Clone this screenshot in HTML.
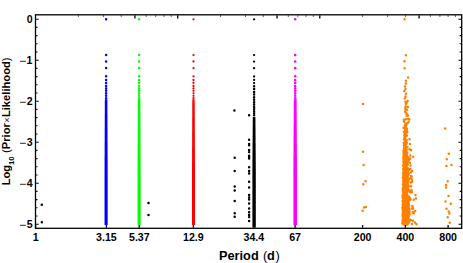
<!DOCTYPE html><html><head><meta charset="utf-8"><title>plot</title>
<style>html,body{margin:0;padding:0;background:#fff;overflow:hidden}svg{display:block}text{font-family:"Liberation Sans",sans-serif;fill:#000}</style></head><body>
<svg width="463" height="263" viewBox="0 0 463 263">
<rect width="463" height="263" fill="#fff"/>
<path d="M106.1 19.3h0M106.1 55.1h0M106.1 61.5h0M106.1 68.1h0M106.1 76.3h0M106.1 80.0h0M106.1 82.9h0M106.1 86.0h0M106.1 88.4h0M106.1 90.8h0M106.1 93.3h0M106.1 95.8h0M106.1 98.2h0" stroke="#0000ff" stroke-width="2.50" stroke-linecap="round" fill="none"/>
<path d="M104.85 99.3L104.55 170.0V225.0H107.65V170.0L107.35 99.3Z" fill="#0000ff"/>
<path d="M139.1 19.3h0M139.1 55.1h0M139.1 61.5h0M139.1 68.1h0M139.1 76.3h0M139.1 80.0h0M139.1 82.9h0M139.1 86.0h0M139.1 88.4h0M139.1 90.8h0M139.1 93.3h0M139.1 95.8h0M139.1 98.2h0" stroke="#00ff00" stroke-width="2.50" stroke-linecap="round" fill="none"/>
<path d="M137.85 99.3L137.55 170.0V225.0H140.65V170.0L140.35 99.3Z" fill="#00ff00"/>
<path d="M193.5 19.3h0M193.5 55.1h0M193.5 61.5h0M193.5 68.1h0M193.5 76.3h0M193.5 80.0h0M193.5 82.9h0M193.5 86.0h0M193.5 88.4h0M193.5 90.8h0M193.5 93.3h0M193.5 95.8h0M193.5 98.2h0" stroke="#ff0000" stroke-width="2.30" stroke-linecap="round" fill="none"/>
<path d="M192.30 99.3L192.00 170.0V225.0H195.00V170.0L194.70 99.3Z" fill="#ff0000"/>
<path d="M254.1 19.3h0M254.1 55.1h0M254.1 61.6h0M254.1 68.2h0M254.1 76.5h0M254.1 79.9h0M254.1 83.1h0" stroke="#000000" stroke-width="2.30" stroke-linecap="round" fill="none"/>
<path d="M254.1 86.2h0M254.1 89.1h0M254.1 91.9h0M254.1 94.6h0M254.1 97.3h0M254.1 99.8h0M254.1 102.3h0M254.1 104.6h0M254.1 106.9h0M254.1 109.1h0M254.1 111.2h0M254.1 113.2h0M254.1 115.2h0" stroke="#000000" stroke-width="2.50" stroke-linecap="round" fill="none"/>
<path d="M252.80 117.1L252.40 170V227.5H255.80V170L255.40 117.1Z" fill="#000"/>
<path d="M295.2 19.3h0M295.2 55.1h0M295.2 61.5h0M295.2 68.1h0M295.2 76.3h0M295.2 80.0h0M295.2 82.9h0M295.2 86.0h0M295.2 88.4h0M295.2 90.8h0M295.2 93.3h0M295.2 95.8h0M295.2 98.2h0" stroke="#ff00ff" stroke-width="2.60" stroke-linecap="round" fill="none"/>
<path d="M293.80 99.3L293.40 170.0V225.0H297.00V170.0L296.60 99.3Z" fill="#ff00ff"/>
<path d="M41.8 204.7h0M41.8 222.2h0M148.5 202.9h0M148.5 215.1h0M234.4 110.4h0M249.1 115.3h0M249.1 139.7h0M249.1 144.1h0M249.1 145.3h0M249.1 150.1h0M249.1 152.0h0M249.1 155.7h0M234.7 157.8h0M234.7 171.1h0M234.7 186.6h0M234.7 190.4h0M234.7 201.1h0M234.7 213.2h0M234.7 216.8h0M249.1 157.0h0M249.1 158.6h0M249.1 167.3h0M249.1 171.1h0M249.1 173.6h0M249.1 181.7h0M249.1 187.6h0M249.1 195.0h0M249.1 197.5h0M249.1 199.4h0M249.1 203.6h0M249.1 208.4h0M249.1 212.3h0M249.1 215.1h0M249.1 216.9h0M249.1 221.1h0" stroke="#000000" stroke-width="2.50" stroke-linecap="round" fill="none"/>
<path d="M404.6 19.3h0M405.9 55.3h0M404.4 61.3h0M404.6 68.2h0M408.1 77.5h0M405.9 80.7h0M405.9 83.5h0M405.0 86.5h0M405.5 89.0h0M404.3 91.0h0M405.9 93.8h0M405.5 96.4h0M404.9 98.4h0M407.6 101.1h0M405.5 101.8h0M406.6 102.8h0M405.9 104.1h0M405.5 106.6h0M407.8 107.0h0M405.3 108.4h0M406.9 109.7h0M405.5 110.4h0M405.2 111.8h0M406.2 113.2h0M407.3 114.6h0M408.0 115.5h0M406.6 115.8h0M403.9 119.8h0M405.9 119.3h0M408.2 118.9h0M409.3 119.5h0M403.9 121.6h0M408.6 121.9h0M405.5 123.6h0M407.3 123.3h0M404.9 125.4h0M406.2 125.4h0M403.6 127.8h0M405.5 127.4h0M406.9 128.8h0M404.9 129.9h0M406.9 130.5h0M403.9 131.9h0M405.5 131.9h0M407.3 132.3h0M363.0 104.0h0M363.0 151.7h0M363.6 165.0h0M365.6 181.3h0M363.3 184.3h0M364.1 207.4h0M365.8 207.0h0M362.6 210.7h0M445.2 128.6h0M448.8 153.8h0M446.8 159.2h0M446.4 165.9h0M451.5 165.0h0M447.7 181.3h0M446.1 185.1h0M446.1 187.4h0M448.5 195.9h0M445.5 201.5h0M450.8 203.8h0M446.5 208.8h0M448.7 211.5h0M449.4 213.6h0M447.7 217.3h0M449.8 222.7h0M410.0 144.1h0M409.4 149.2h0M411.0 150.0h0M410.3 155.5h0M413.3 156.7h0M410.3 158.6h0M410.5 165.6h0M411.0 172.5h0M411.0 176.0h0M412.0 179.7h0M410.8 182.6h0M411.0 186.3h0M411.5 189.9h0M412.0 191.9h0M415.5 195.0h0M416.0 198.5h0M413.8 199.8h0M412.3 205.9h0M413.0 208.8h0M415.2 211.0h0M414.0 213.3h0M413.0 220.7h0M415.0 222.6h0M416.5 224.2h0M405.1 132.7h0M405.1 132.9h0M406.3 133.0h0M405.5 133.6h0M405.5 133.9h0M405.0 133.7h0M404.3 135.1h0M406.9 135.4h0M405.9 135.6h0M405.8 136.3h0M404.4 135.7h0M404.7 136.6h0M404.9 136.7h0M404.5 137.1h0M405.0 138.3h0M404.7 138.0h0M404.7 138.2h0M409.5 139.3h0M404.6 138.5h0M404.1 139.4h0M404.4 140.1h0M404.7 140.4h0M406.7 140.2h0M405.7 141.5h0M404.9 141.3h0M406.1 140.5h0M405.4 141.7h0M405.3 142.3h0M405.1 141.6h0M406.1 142.4h0M403.8 142.9h0M404.6 143.4h0M404.1 142.9h0M406.8 142.7h0M405.2 143.7h0M406.3 144.1h0M406.2 143.8h0M405.1 143.9h0M404.7 145.5h0M404.1 145.2h0M405.4 145.4h0M403.8 145.3h0M404.8 145.6h0M404.8 145.7h0M405.0 145.8h0M405.0 145.7h0M407.4 146.9h0M405.4 146.6h0M404.6 146.8h0M405.9 147.3h0M404.1 147.5h0M405.4 147.8h0M405.4 147.8h0M404.6 147.5h0M406.0 148.0h0M406.3 147.5h0M406.3 149.5h0M404.1 148.8h0M405.3 148.7h0M404.0 149.3h0M406.4 148.7h0M403.6 150.3h0M405.3 150.2h0M406.6 149.9h0M406.1 149.5h0M405.3 149.8h0M403.5 151.5h0M406.2 151.5h0M405.3 150.9h0M406.1 150.7h0M403.7 150.7h0M403.7 152.2h0M404.0 151.6h0M403.6 152.3h0M405.5 151.7h0M404.3 152.3h0M403.5 151.9h0M407.2 152.6h0M407.3 152.7h0M404.2 152.6h0M404.7 153.5h0M404.4 152.6h0M404.5 153.5h0M404.2 154.4h0M405.2 153.7h0M406.4 154.1h0M404.7 153.8h0M405.6 153.9h0M403.6 154.0h0M404.1 155.0h0M406.8 155.0h0M405.4 154.7h0M405.5 154.5h0M404.6 155.0h0M404.7 155.1h0M406.9 155.6h0M405.3 156.1h0M406.5 156.3h0M403.6 156.0h0M404.6 155.9h0M403.6 156.0h0M405.2 156.0h0M408.0 157.2h0M403.5 156.8h0M405.8 157.4h0M404.8 156.6h0M405.3 156.6h0M405.9 157.2h0M406.0 157.3h0M404.9 158.2h0M406.4 158.4h0M405.2 158.5h0M408.4 158.0h0M405.2 157.7h0M404.9 158.0h0M406.2 158.2h0M405.1 159.1h0M405.5 159.1h0M409.7 159.0h0M407.2 159.5h0M405.3 158.6h0M405.8 158.8h0M403.3 158.6h0M407.1 158.8h0M403.7 160.4h0M404.6 159.6h0M408.9 159.9h0M407.1 160.3h0M405.8 159.6h0M405.0 160.4h0M403.6 159.8h0M404.5 159.6h0M405.7 160.6h0M405.9 160.7h0M404.7 160.8h0M408.1 161.0h0M405.3 160.7h0M405.7 160.5h0M404.6 161.2h0M405.1 161.4h0M403.5 161.9h0M405.5 162.0h0M407.0 162.2h0M405.3 162.3h0M404.4 162.1h0M406.3 161.6h0M405.4 161.6h0M404.4 161.6h0M405.2 163.2h0M406.7 163.0h0M404.5 162.7h0M405.9 163.5h0M405.6 163.0h0M409.9 162.8h0M403.9 162.9h0M405.7 163.0h0M406.9 163.8h0M406.4 163.5h0M405.1 163.5h0M406.6 164.0h0M404.3 164.3h0M403.7 163.9h0M407.1 164.5h0M407.7 164.1h0M407.3 163.5h0M403.2 165.2h0M403.9 164.6h0M405.2 165.3h0M407.5 165.1h0M404.2 165.2h0M406.5 164.5h0M406.7 164.6h0M403.7 165.3h0M404.8 166.0h0M405.4 166.3h0M403.9 166.2h0M405.4 166.2h0M406.1 166.2h0M405.2 165.7h0M403.3 165.9h0M405.7 166.2h0M403.6 166.1h0M405.4 166.8h0M404.3 166.5h0M404.5 166.8h0M403.6 166.8h0M404.8 167.0h0M405.6 166.7h0M405.7 167.5h0M405.3 167.0h0M404.4 167.5h0M405.9 167.7h0M406.8 168.1h0M407.1 168.5h0M406.4 167.6h0M404.0 168.4h0M407.1 167.7h0M404.5 167.5h0M404.3 168.0h0M405.9 167.8h0M408.4 169.3h0M405.5 169.3h0M408.0 168.6h0M404.5 169.4h0M403.2 168.9h0M410.4 168.9h0M408.2 168.5h0M407.5 168.8h0M405.5 169.4h0M406.9 169.7h0M409.1 169.9h0M404.7 170.1h0M403.5 170.4h0M404.8 170.2h0M404.8 170.3h0M404.6 170.4h0M404.8 170.0h0M406.7 170.5h0M404.9 171.2h0M407.7 170.7h0M406.5 170.7h0M412.0 171.0h0M404.7 171.5h0M405.8 170.6h0M406.6 170.8h0M406.2 170.8h0M407.8 171.1h0M403.9 170.9h0M405.2 171.9h0M406.0 172.5h0M403.5 171.6h0M405.4 171.7h0M404.2 171.7h0M406.6 172.3h0M405.9 172.4h0M405.5 172.2h0M403.6 172.4h0M405.9 171.9h0M408.5 173.3h0M403.4 172.7h0M403.3 172.7h0M405.2 173.2h0M403.7 173.3h0M406.1 173.3h0M407.8 172.7h0M404.5 172.8h0M404.0 172.8h0M403.8 174.0h0M405.9 173.9h0M407.9 173.5h0M403.1 173.8h0M406.6 174.4h0M405.6 174.0h0M406.9 174.5h0M405.4 174.2h0M405.9 174.2h0M405.4 173.9h0M408.2 174.5h0M403.5 174.8h0M406.8 175.3h0M404.5 175.2h0M405.5 174.8h0M406.1 174.7h0M408.6 174.8h0M404.5 175.5h0M405.5 174.9h0M406.5 175.2h0M405.2 175.7h0M406.1 175.6h0M405.7 175.9h0M407.7 176.4h0M403.9 176.5h0M407.2 175.8h0M411.5 176.2h0M404.6 175.9h0M406.7 175.5h0M403.3 175.8h0M411.7 176.7h0M405.1 177.3h0M405.8 176.9h0M406.1 177.4h0M407.2 177.4h0M403.2 176.5h0M407.3 176.5h0M411.6 176.5h0M407.1 177.4h0M405.0 176.8h0M411.0 178.2h0M405.7 177.5h0M402.8 178.1h0M405.7 177.5h0M407.6 178.5h0M404.6 178.5h0M406.4 178.0h0M406.9 178.4h0M408.6 178.2h0M405.9 178.3h0M403.4 177.8h0M406.6 179.3h0M406.1 179.3h0M406.0 178.7h0M405.7 179.1h0M409.4 178.8h0M405.1 178.8h0M403.1 178.6h0M405.6 178.7h0M403.8 178.9h0M403.9 179.3h0M406.4 178.6h0M404.4 179.9h0M405.6 179.7h0M407.0 179.7h0M404.3 180.4h0M404.9 180.5h0M406.5 179.7h0M403.4 180.5h0M407.1 180.0h0M403.3 180.4h0M406.4 179.8h0M406.4 180.5h0M403.3 181.4h0M408.3 180.8h0M406.4 181.3h0M405.3 181.1h0M404.9 180.7h0M406.3 180.8h0M404.9 181.1h0M404.7 180.8h0M405.1 180.7h0M406.7 181.0h0M407.1 180.6h0M406.7 182.1h0M407.1 181.6h0M408.1 181.9h0M404.1 181.8h0M411.2 182.1h0M407.4 182.4h0M405.5 181.7h0M412.1 181.7h0M405.7 181.9h0M404.6 182.4h0M405.8 182.1h0M407.8 183.4h0M407.0 182.9h0M406.5 183.0h0M406.8 183.0h0M407.3 183.4h0M407.0 183.3h0M405.9 183.5h0M406.5 183.4h0M405.0 183.5h0M405.6 182.9h0M403.3 183.4h0M403.5 183.7h0M406.1 184.3h0M404.6 183.7h0M404.9 184.0h0M406.2 184.2h0M408.0 184.4h0M406.2 184.3h0M406.1 183.5h0M404.9 184.1h0M405.0 184.1h0M407.5 183.9h0M405.2 184.9h0M405.7 185.0h0M405.9 184.7h0M403.2 185.0h0M406.4 185.0h0M406.2 184.9h0M403.7 184.6h0M406.4 185.1h0M405.3 184.6h0M402.9 184.6h0M406.6 184.9h0M405.3 186.5h0M407.5 186.3h0M410.8 186.0h0M407.3 186.4h0M408.5 186.4h0M403.9 185.6h0M408.2 186.4h0M406.0 185.8h0M404.7 186.0h0M405.4 185.7h0M407.9 185.5h0M408.3 186.7h0M404.6 187.4h0M407.4 187.3h0M407.2 187.1h0M407.3 186.9h0M404.0 187.1h0M408.3 186.6h0M405.5 186.9h0M408.2 186.8h0M405.4 186.9h0M407.0 186.9h0M408.5 186.5h0M402.8 187.8h0M403.0 188.2h0M406.7 187.5h0M405.8 188.1h0M403.1 187.9h0M405.3 187.7h0M407.4 187.5h0M405.6 187.6h0M406.0 187.9h0M408.2 188.1h0M404.2 187.7h0M404.2 188.7h0M403.3 188.6h0M403.0 188.9h0M404.2 188.5h0M403.8 189.1h0M405.5 189.4h0M404.3 188.5h0M405.6 188.9h0M406.3 189.3h0M403.1 188.5h0M404.3 188.7h0M406.1 190.1h0M404.6 189.8h0M408.3 189.5h0M403.6 190.2h0M405.5 190.3h0M403.6 190.0h0M405.7 189.6h0M406.2 189.8h0M404.5 190.2h0M402.8 189.8h0M406.2 189.9h0M403.5 189.8h0M405.9 190.7h0M405.4 190.8h0M408.7 191.2h0M404.6 190.8h0M405.9 190.8h0M410.0 191.1h0M407.8 191.2h0M405.3 191.3h0M403.0 191.4h0M406.8 190.8h0M405.1 190.7h0M405.1 190.6h0M405.1 192.4h0M406.5 191.5h0M403.8 192.2h0M403.6 191.6h0M407.1 191.9h0M403.1 192.4h0M410.4 192.4h0M403.4 191.6h0M406.7 192.3h0M403.3 192.3h0M406.3 191.8h0M406.1 192.3h0M405.3 192.8h0M405.8 192.8h0M404.6 193.2h0M406.9 193.0h0M405.3 193.4h0M405.3 192.9h0M405.0 192.8h0M403.5 193.4h0M405.7 193.3h0M405.7 192.7h0M405.8 193.3h0M405.6 193.0h0M404.0 193.7h0M405.7 193.8h0M405.4 194.4h0M407.0 194.0h0M405.1 193.6h0M405.1 194.2h0M404.5 194.1h0M407.2 194.4h0M406.0 193.6h0M405.4 193.7h0M403.9 194.4h0M405.6 193.7h0M405.7 195.3h0M403.0 194.8h0M407.2 194.7h0M403.4 195.2h0M406.0 194.9h0M403.3 194.6h0M405.7 195.4h0M406.9 194.8h0M406.3 195.2h0M404.8 194.7h0M404.6 194.8h0M405.5 194.7h0M406.5 195.6h0M405.4 195.9h0M405.4 196.3h0M403.7 196.1h0M405.3 195.7h0M406.0 196.3h0M403.1 196.2h0M405.6 195.6h0M405.4 195.9h0M402.6 196.1h0M406.0 195.9h0M408.8 196.4h0M407.4 197.2h0M403.5 197.1h0M405.1 196.8h0M405.0 197.3h0M405.6 197.1h0M407.7 197.1h0M403.7 196.9h0M402.6 197.2h0M403.1 196.9h0M406.0 197.0h0M406.6 196.7h0M403.1 197.0h0M405.2 198.0h0M403.5 198.3h0M406.9 197.9h0M405.2 198.2h0M410.0 198.3h0M409.7 197.8h0M403.2 197.9h0M407.1 197.8h0M405.4 197.7h0M402.6 197.7h0M405.9 197.9h0M406.7 198.3h0M403.4 199.1h0M406.1 199.5h0M403.5 198.9h0M403.1 199.0h0M408.3 199.0h0M408.3 198.9h0M405.4 199.4h0M407.6 198.9h0M408.9 198.7h0M405.7 198.8h0M405.0 198.7h0M407.8 199.1h0M409.2 199.9h0M404.1 199.6h0M405.9 200.4h0M404.7 200.3h0M410.6 199.5h0M406.0 199.8h0M406.5 199.6h0M406.8 200.3h0M408.1 199.8h0M409.2 200.3h0M407.8 199.7h0M404.1 200.3h0M406.3 201.3h0M404.6 201.2h0M402.7 201.2h0M407.2 200.8h0M407.1 200.7h0M407.4 200.6h0M407.1 201.0h0M407.5 201.0h0M405.8 201.0h0M405.5 201.3h0M403.9 201.1h0M402.6 200.9h0M405.3 202.1h0M405.3 202.2h0M408.0 201.8h0M405.4 202.0h0M405.1 201.5h0M403.1 202.4h0M403.0 202.0h0M405.1 201.9h0M406.4 202.1h0M404.3 202.3h0M405.3 202.0h0M408.0 202.2h0M404.9 202.3h0M407.2 203.1h0M408.8 203.3h0M406.4 203.4h0M407.3 203.0h0M406.2 202.5h0M408.1 202.7h0M404.5 203.2h0M403.7 203.4h0M404.0 203.2h0M406.3 203.2h0M408.6 203.0h0M406.7 203.3h0M406.4 202.5h0M404.7 204.4h0M404.2 204.3h0M405.0 203.8h0M407.7 203.9h0M406.3 204.1h0M405.4 204.1h0M406.6 203.6h0M403.4 204.4h0M403.8 203.5h0M407.4 204.5h0M404.9 204.0h0M406.1 203.7h0M408.7 204.5h0M405.7 204.6h0M409.1 205.5h0M407.8 204.6h0M405.4 204.5h0M404.3 204.7h0M404.8 205.3h0M402.7 204.6h0M402.9 205.2h0M406.8 205.5h0M406.0 205.2h0M405.7 205.2h0M407.2 205.3h0M406.5 205.7h0M405.0 206.4h0M405.7 206.1h0M405.2 205.9h0M404.7 205.9h0M404.1 206.1h0M406.6 206.4h0M404.2 206.3h0M405.0 206.5h0M404.4 206.3h0M408.1 206.3h0M404.9 206.1h0M407.7 205.9h0M408.6 207.1h0M403.6 206.8h0M403.5 206.8h0M406.9 207.4h0M407.5 206.5h0M402.7 207.4h0M407.8 206.8h0M403.0 207.2h0M407.9 206.8h0M407.0 207.3h0M405.7 206.7h0M402.7 206.7h0M404.4 207.2h0M405.9 208.3h0M408.8 208.0h0M407.6 208.3h0M402.5 207.7h0M403.8 208.0h0M406.1 208.1h0M406.9 207.7h0M404.1 208.2h0M407.7 208.0h0M412.7 207.6h0M407.6 208.1h0M407.2 208.3h0M407.9 207.8h0M411.8 208.5h0M407.0 209.0h0M405.4 209.1h0M409.2 209.4h0M407.9 209.3h0M403.1 208.8h0M406.0 208.7h0M406.4 208.6h0M407.2 209.1h0M404.2 209.4h0M404.1 208.6h0M404.6 209.5h0M402.7 209.1h0M403.0 209.9h0M407.1 210.5h0M405.6 209.5h0M409.3 209.9h0M403.3 210.3h0M405.0 210.3h0M403.1 209.6h0M408.5 210.3h0M404.6 209.8h0M407.1 210.3h0M406.8 209.8h0M404.5 209.6h0M405.8 209.6h0M405.4 210.5h0M404.5 211.4h0M408.5 211.4h0M402.8 210.6h0M409.2 210.6h0M404.1 211.1h0M406.7 210.8h0M403.8 211.1h0M408.7 210.7h0M406.8 211.1h0M406.8 210.6h0M404.6 210.9h0M406.6 210.8h0M404.2 212.0h0M412.6 212.4h0M409.4 212.2h0M404.1 211.7h0M405.9 211.7h0M412.9 211.9h0M405.3 211.6h0M408.8 212.4h0M406.8 211.8h0M409.4 212.5h0M406.0 211.8h0M409.6 211.6h0M405.7 212.0h0M402.9 211.7h0M407.5 212.6h0M406.1 212.7h0M403.0 212.7h0M404.0 212.6h0M404.3 212.7h0M406.7 213.2h0M403.4 212.7h0M403.1 213.2h0M407.5 213.3h0M407.9 212.8h0M403.1 213.0h0M402.9 213.4h0M406.3 212.7h0M406.7 213.9h0M407.4 214.1h0M403.6 213.5h0M405.4 213.6h0M406.9 214.3h0M404.4 214.2h0M409.6 214.3h0M407.2 214.5h0M403.4 214.0h0M405.5 213.5h0M406.1 213.7h0M406.5 213.8h0M406.6 214.3h0M405.8 214.7h0M403.7 214.5h0M404.2 215.2h0M405.6 215.4h0M405.1 215.0h0M407.2 214.8h0M407.1 214.6h0M406.4 215.1h0M404.9 215.1h0M407.9 214.7h0M402.7 214.9h0M403.8 215.3h0M405.4 215.3h0M402.5 215.8h0M408.0 216.4h0M406.1 216.3h0M405.2 216.0h0M405.7 216.4h0M407.8 216.1h0M405.0 215.9h0M405.5 216.0h0M409.2 215.6h0M405.1 216.4h0M408.9 216.3h0M403.1 215.5h0M405.0 215.8h0M404.3 216.4h0M402.8 217.0h0M407.7 216.8h0M407.7 217.1h0M407.6 217.5h0M405.4 217.0h0M408.0 216.6h0M406.8 216.6h0M406.9 216.9h0M405.7 216.8h0M406.6 217.0h0M403.8 217.3h0M404.1 216.7h0M403.2 217.0h0M404.9 216.8h0M403.8 218.0h0M407.5 217.9h0M405.9 218.4h0M408.3 218.0h0M407.4 217.8h0M405.6 218.3h0M407.2 217.6h0M404.2 217.6h0M405.6 217.9h0M404.8 218.5h0M404.8 217.7h0M407.3 218.1h0M406.8 218.3h0M403.6 218.2h0M406.4 219.0h0M402.9 219.4h0M409.2 219.4h0M405.8 219.1h0M408.3 219.0h0M405.1 218.9h0M404.2 219.4h0M404.5 219.0h0M403.8 218.8h0M407.4 218.8h0M407.1 219.3h0M403.9 218.9h0M407.3 218.8h0M407.8 219.6h0M404.0 220.4h0M409.3 220.5h0M403.0 219.7h0M407.7 219.5h0M402.5 220.1h0M405.8 220.0h0M403.4 220.5h0M405.4 219.9h0M402.9 220.1h0M410.9 220.0h0M403.4 219.9h0M404.7 220.5h0M402.8 219.9h0M402.9 221.3h0M409.5 220.8h0M405.2 221.0h0M404.4 221.4h0M402.7 221.4h0M405.1 220.7h0M408.1 220.7h0M403.9 220.7h0M403.8 221.5h0M402.8 220.5h0M407.6 221.2h0M404.4 220.5h0M409.5 221.2h0M403.2 220.7h0M405.7 222.0h0M403.9 222.5h0M404.8 221.7h0M406.7 221.6h0M406.4 222.0h0M403.0 222.3h0M403.4 221.5h0M405.3 221.8h0M403.9 221.8h0M404.1 222.4h0M404.8 221.9h0M402.7 222.4h0M403.3 222.1h0M409.4 221.5h0M404.1 223.4h0M402.6 222.8h0M402.8 223.4h0M405.4 222.9h0M404.4 223.4h0M405.7 223.3h0M407.0 222.9h0M407.4 222.7h0M405.4 223.1h0M404.2 223.0h0M407.1 222.6h0M404.8 223.3h0M407.0 222.8h0M408.7 222.7h0M406.4 223.7h0M407.1 224.2h0M406.6 224.3h0M402.4 223.6h0M407.1 223.7h0M405.4 223.9h0M403.8 223.7h0M406.0 224.0h0M408.0 223.6h0M405.4 224.2h0M412.0 223.9h0M406.4 223.7h0M405.0 224.0h0M406.0 223.8h0M403.8 224.6h0M406.8 224.6h0M406.4 224.6h0M405.2 224.6h0M404.9 224.6h0M407.4 224.6h0M406.4 224.6h0M405.4 224.6h0M404.1 224.6h0M406.4 224.6h0M404.9 224.6h0M404.8 224.6h0M404.1 224.6h0M406.8 224.6h0" stroke="#ff8000" stroke-width="2.50" stroke-linecap="round" fill="none"/>
<g stroke="#000" fill="none">
<rect x="35.5" y="14.8" width="426.2" height="213.5" stroke-width="1.3"/>
<path d="M36.1 19.2h2.6M461.1 19.2h-2.6M36.1 27.4h1.4M461.1 27.4h-1.4M36.1 35.6h1.4M461.1 35.6h-1.4M36.1 43.8h1.4M461.1 43.8h-1.4M36.1 52.0h1.4M461.1 52.0h-1.4M36.1 60.2h2.6M461.1 60.2h-2.6M36.1 68.4h1.4M461.1 68.4h-1.4M36.1 76.6h1.4M461.1 76.6h-1.4M36.1 84.8h1.4M461.1 84.8h-1.4M36.1 93.0h1.4M461.1 93.0h-1.4M36.1 101.2h2.6M461.1 101.2h-2.6M36.1 109.4h1.4M461.1 109.4h-1.4M36.1 117.6h1.4M461.1 117.6h-1.4M36.1 125.8h1.4M461.1 125.8h-1.4M36.1 134.0h1.4M461.1 134.0h-1.4M36.1 142.2h2.6M461.1 142.2h-2.6M36.1 150.4h1.4M461.1 150.4h-1.4M36.1 158.6h1.4M461.1 158.6h-1.4M36.1 166.8h1.4M461.1 166.8h-1.4M36.1 175.0h1.4M461.1 175.0h-1.4M36.1 183.2h2.6M461.1 183.2h-2.6M36.1 191.4h1.4M461.1 191.4h-1.4M36.1 199.6h1.4M461.1 199.6h-1.4M36.1 207.8h1.4M461.1 207.8h-1.4M36.1 216.0h1.4M461.1 216.0h-1.4M36.1 224.2h2.6M461.1 224.2h-2.6" stroke-width="1.1"/>
<path d="M35.6 227.8v-2.9M106.4 227.8v-2.9M139.3 227.8v-2.9M193.4 227.8v-2.9M253.9 227.8v-2.9M295.1 227.8v-2.9M362.6 227.8v-2.9M405.4 227.8v-2.9M448.1 227.8v-2.9" stroke-width="1.3"/>
<path d="M134.9 15.3v3.1M177.7 15.3v3.1M277.0 15.3v3.1M319.8 15.3v3.1M419.1 15.3v3.1" stroke-width="1.3"/>
<path d="M78.4 15.3v1.5M103.4 15.3v1.5M121.2 15.3v1.5M146.2 15.3v1.5M155.7 15.3v1.5M163.9 15.3v1.5M171.2 15.3v1.5M220.5 15.3v1.5M245.5 15.3v1.5M263.3 15.3v1.5M288.3 15.3v1.5M297.8 15.3v1.5M306.0 15.3v1.5M313.3 15.3v1.5M362.6 15.3v1.5M387.6 15.3v1.5M405.4 15.3v1.5M430.4 15.3v1.5M439.9 15.3v1.5M448.1 15.3v1.5M455.4 15.3v1.5" stroke-width="0.8"/>
</g>
<g font-weight="bold" font-size="10.6px" text-anchor="middle">
<text x="35.6" y="240.6">1</text>
<text x="106.4" y="240.6">3.15</text>
<text x="139.3" y="240.6">5.37</text>
<text x="193.4" y="240.6">12.9</text>
<text x="253.9" y="240.6">34.4</text>
<text x="295.1" y="240.6">67</text>
<text x="362.6" y="240.6">200</text>
<text x="405.4" y="240.6">400</text>
<text x="448.1" y="240.6">800</text>
</g>
<g font-size="10.6px" text-anchor="end">
<text x="32.7" y="23.2" font-weight="bold">0</text>
<text x="32.3" y="64.2" font-weight="bold">1</text>
<path d="M20.1 61.3H25.8" stroke="#000" stroke-width="0.85"/>
<text x="32.7" y="105.2" font-weight="bold">2</text>
<path d="M20.1 102.3H25.8" stroke="#000" stroke-width="0.85"/>
<text x="32.7" y="146.2" font-weight="bold">3</text>
<path d="M20.1 143.3H25.8" stroke="#000" stroke-width="0.85"/>
<text x="32.7" y="187.2" font-weight="bold">4</text>
<path d="M20.1 184.3H25.8" stroke="#000" stroke-width="0.85"/>
<text x="32.7" y="228.2" font-weight="bold">5</text>
<path d="M20.1 225.3H25.8" stroke="#000" stroke-width="0.85"/>
</g>
<text y="259.9" font-size="12.75px"><tspan x="219.0" font-weight="bold">Period</tspan><tspan x="263.0" font-weight="normal">(</tspan><tspan x="267.0" font-weight="bold">d</tspan><tspan x="275.6" font-weight="normal">)</tspan></text>
<g transform="translate(10.0,185.3) rotate(-90)"><text font-size="11.2px" x="0" y="0"><tspan font-weight="bold">Log</tspan><tspan font-weight="bold" font-size="7.9px" dy="3.7" dx="-0.3">10</tspan><tspan dy="-3.7" dx="3.3" font-weight="normal">(</tspan><tspan font-weight="bold">Prior</tspan><tspan font-weight="normal" font-size="9px" dx="0.4">×</tspan><tspan font-weight="bold" dx="0.4">Likelihood</tspan><tspan font-weight="normal">)</tspan></text></g>
</svg></body></html>
